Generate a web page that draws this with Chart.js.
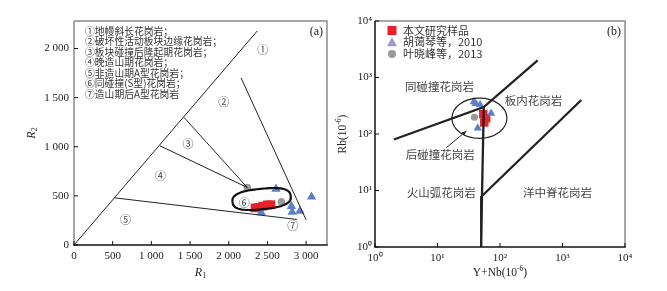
<!DOCTYPE html>
<html>
<head>
<meta charset="utf-8">
<script src="https://cdn.jsdelivr.net/npm/chart.js@4.4.0/dist/chart.umd.min.js"></script>
<style>
html, body { margin: 0; padding: 0; background: #fff; }
#wrap { position: relative; width: 667px; height: 291px; }
canvas { position: absolute; top: 0; }
</style>
</head>
<body>
<div id="wrap">
  <canvas id="chartA" width="334" height="291" style="left:0"></canvas>
  <canvas id="chartB" width="333" height="291" style="left:334px"></canvas>
</div>
<script>
// ---- panel (a): R1-R2 ----
const r1Ticks = [0, 500, 1000, 1500, 2000, 2500, 3000];
const r2Ticks = [0, 500, 1000, 1500, 2000];
const boundA1 = [{x: 0, y: 0}, {x: 2370, y: 2180}];
const boundA2 = [{x: 2160, y: 1700}, {x: 3000, y: 255}];
const boundA3 = [{x: 1420, y: 1300}, {x: 2240, y: 585}];
const boundA4 = [{x: 1110, y: 1010}, {x: 2240, y: 585}];
const boundA5 = [{x: 525, y: 480}, {x: 2880, y: 260}];
const thisStudyA = [{x: 2340, y: 378}, {x: 2390, y: 382}, {x: 2440, y: 396}, {x: 2500, y: 408}, {x: 2545, y: 410}];
const huA = [{x: 2610, y: 570}, {x: 3070, y: 490}, {x: 2810, y: 395}, {x: 2820, y: 335}, {x: 2920, y: 345}, {x: 2420, y: 330}];
const yeA = [{x: 2240, y: 585}, {x: 2680, y: 440}];
const zonesA = [
  {x: 2440, y: 1990, t: '①'}, {x: 1937, y: 1462, t: '②'}, {x: 1474, y: 1032, t: '③'},
  {x: 1117, y: 704, t: '④'}, {x: 667, y: 254, t: '⑤'}, {x: 2200, y: 433, t: '⑥'}, {x: 2826, y: 193, t: '⑦'}
];
const keyA = [
  '①地幔斜长花岗岩；', '②破坏性活动板块边缘花岗岩；', '③板块碰撞后隆起期花岗岩；',
  '④晚造山期花岗岩；', '⑤非造山期A型花岗岩；', '⑥同碰撞(S型)花岗岩；', '⑦造山期后A型花岗岩'
];
const fieldA = {x: 2425, y: 468, rx: 378, ry: 104, tilt: -0.1};

// ---- panel (b): Rb vs Y+Nb ----
const decades = [1, 10, 100, 1000, 10000];
const boundB1 = [{x: 2, y: 80}, {x: 55, y: 300}, {x: 400, y: 2000}];
const boundB2 = [{x: 55, y: 300}, {x: 51.5, y: 8}, {x: 50, y: 1}];
const boundB3 = [{x: 51.5, y: 8}, {x: 2000, y: 400}];
const thisStudyB = [{x: 54, y: 225}, {x: 60, y: 190}, {x: 56, y: 160}];
const huB = [{x: 38, y: 370}, {x: 41, y: 345}, {x: 48, y: 330}, {x: 72, y: 233}, {x: 44, y: 127}];
const yeB = [{x: 39, y: 198}];
const zonesB = [
  {x: 10.8, y: 688, t: '同碰撞花岗岩'}, {x: 345, y: 389, t: '板内花岗岩'},
  {x: 11.1, y: 42.7, t: '后碰撞花岗岩'}, {x: 11.5, y: 9.2, t: '火山弧花岗岩'}, {x: 835, y: 9.2, t: '洋中脊花岗岩'}
];
const fieldB = {xMin: 17, xMax: 129, yMin: 84, yMax: 430};
const arrowB = [{x: 13.8, y: 57}, {x: 29, y: 113}];
const seriesNames = ['本文研究样品', '胡蔼琴等，2010', '叶晓峰等，2013'];

const SERIF = '"Liberation Serif", "Times New Roman", serif';
const CJK = '"Noto Sans CJK SC", sans-serif';
const RED = '#e8212b', BLUE = '#5b80c6', GRAY = '#9a9a9a';

function lineSet(data, width) {
  return {data: data, showLine: true, borderColor: '#222', borderWidth: width, pointRadius: 0, fill: false, tension: 0};
}
function markSet(data, style, color, r) {
  return {data: data, pointStyle: style, backgroundColor: color, borderColor: color, borderWidth: 0, pointRadius: r, pointHoverRadius: r, showLine: false};
}

function drawRich(ctx, parts, x, y, rot) {
  ctx.save();
  ctx.translate(x, y);
  ctx.rotate(rot || 0);
  let w = 0;
  parts.forEach(p => { ctx.font = p.font; p.w = ctx.measureText(p.t).width; w += p.w; });
  let cx = -w / 2;
  ctx.textBaseline = 'middle';
  ctx.textAlign = 'left';
  parts.forEach(p => { ctx.font = p.font; ctx.fillText(p.t, cx, p.dy || 0); cx += p.w; });
  ctx.restore();
}

function drawFrame(chart, leftColor, tickVals) {
  const {ctx, chartArea: a, scales} = chart;
  ctx.save();
  ctx.lineWidth = 1.5;
  ctx.strokeStyle = '#8a8a8a';
  ctx.beginPath();
  ctx.moveTo(a.left, a.top); ctx.lineTo(a.right, a.top); ctx.lineTo(a.right, a.bottom);
  ctx.stroke();
  ctx.strokeStyle = leftColor;
  ctx.beginPath(); ctx.moveTo(a.left, a.top); ctx.lineTo(a.left, a.bottom); ctx.stroke();
  ctx.strokeStyle = '#111';
  ctx.beginPath(); ctx.moveTo(a.left - 0.75, a.bottom); ctx.lineTo(a.right + 0.75, a.bottom); ctx.stroke();
  ctx.lineWidth = 1;
  ctx.strokeStyle = '#111';
  tickVals.x.forEach(v => {
    const p = scales.x.getPixelForValue(v);
    ctx.beginPath(); ctx.moveTo(p, a.bottom); ctx.lineTo(p, a.bottom - 4); ctx.stroke();
  });
  tickVals.y.forEach(v => {
    const p = scales.y.getPixelForValue(v);
    ctx.beginPath(); ctx.moveTo(a.left, p); ctx.lineTo(a.left + 4, p); ctx.stroke();
  });
  ctx.restore();
}

const decorA = {
  id: 'decorA',
  afterDatasetsDraw(chart) {
    const {ctx, scales: {x, y}, chartArea: a} = chart;
    ctx.save();
    // closed field around group 6
    const cx = x.getPixelForValue(fieldA.x), cy = y.getPixelForValue(fieldA.y);
    const rx = Math.abs(x.getPixelForValue(fieldA.x + fieldA.rx) - cx);
    const ry = Math.abs(y.getPixelForValue(fieldA.y + fieldA.ry) - cy);
    ctx.beginPath();
    for (let i = 0; i <= 96; i++) {
      const t = i / 96 * Math.PI * 2;
      const c = Math.cos(t), s = Math.sin(t);
      const ex = rx * Math.sign(c) * Math.pow(Math.abs(c), 0.75);
      const ey = ry * Math.sign(s) * Math.pow(Math.abs(s), 0.75);
      const px = cx + ex * Math.cos(fieldA.tilt) - ey * Math.sin(fieldA.tilt);
      const py = cy + ex * Math.sin(fieldA.tilt) + ey * Math.cos(fieldA.tilt);
      if (i === 0) ctx.moveTo(px, py); else ctx.lineTo(px, py);
    }
    ctx.closePath();
    ctx.lineWidth = 2.2;
    ctx.strokeStyle = '#111';
    ctx.stroke();

    ctx.fillStyle = '#444';
    ctx.font = '11px ' + CJK;
    ctx.textAlign = 'center';
    ctx.textBaseline = 'middle';
    zonesA.forEach(z => ctx.fillText(z.t, x.getPixelForValue(z.x), y.getPixelForValue(z.y)));

    ctx.fillStyle = '#333';
    ctx.font = '9.8px ' + CJK;
    ctx.textAlign = 'left';
    keyA.forEach((t, i) => ctx.fillText(t, a.left + 11, a.top + 10 + i * 10.5));

    ctx.font = '12px ' + SERIF;
    ctx.fillStyle = '#222';
    ctx.textAlign = 'right';
    ctx.fillText('(a)', a.right - 4, a.top + 11);
    ctx.restore();

    ctx.fillStyle = '#222';
    drawRich(ctx, [{t: 'R', font: 'italic 12px ' + SERIF}, {t: '1', font: '8px ' + SERIF, dy: 3}], (a.left + a.right) / 2, 273, 0);
    drawRich(ctx, [{t: 'R', font: 'italic 12px ' + SERIF}, {t: '2', font: '8px ' + SERIF, dy: 3}], 32, (a.top + a.bottom) / 2, -Math.PI / 2);
  },
  afterDraw(chart) { drawFrame(chart, '#8a8a8a', {x: r1Ticks, y: r2Ticks}); }
};

const decorB = {
  id: 'decorB',
  afterDatasetsDraw(chart) {
    const {ctx, scales: {x, y}, chartArea: a} = chart;
    ctx.save();
    const x0 = x.getPixelForValue(fieldB.xMin), x1 = x.getPixelForValue(fieldB.xMax);
    const y0 = y.getPixelForValue(fieldB.yMin), y1 = y.getPixelForValue(fieldB.yMax);
    ctx.beginPath();
    ctx.ellipse((x0 + x1) / 2, (y0 + y1) / 2, Math.abs(x1 - x0) / 2, Math.abs(y1 - y0) / 2, 0, 0, Math.PI * 2);
    ctx.lineWidth = 1.2;
    ctx.strokeStyle = '#222';
    ctx.stroke();

    // arrow
    const ax0 = x.getPixelForValue(arrowB[0].x), ay0 = y.getPixelForValue(arrowB[0].y);
    const ax1 = x.getPixelForValue(arrowB[1].x), ay1 = y.getPixelForValue(arrowB[1].y);
    const ang = Math.atan2(ay1 - ay0, ax1 - ax0);
    ctx.lineWidth = 1;
    ctx.beginPath(); ctx.moveTo(ax0, ay0); ctx.lineTo(ax1, ay1); ctx.stroke();
    ctx.fillStyle = '#222';
    ctx.beginPath();
    ctx.moveTo(ax1, ay1);
    ctx.lineTo(ax1 - 5 * Math.cos(ang - 0.4), ay1 - 5 * Math.sin(ang - 0.4));
    ctx.lineTo(ax1 - 5 * Math.cos(ang + 0.4), ay1 - 5 * Math.sin(ang + 0.4));
    ctx.closePath(); ctx.fill();

    ctx.fillStyle = '#444';
    ctx.font = '11.5px ' + CJK;
    ctx.textAlign = 'center';
    ctx.textBaseline = 'middle';
    zonesB.forEach(z => ctx.fillText(z.t, x.getPixelForValue(z.x), y.getPixelForValue(z.y)));

    // legend
    const lx = a.left + 17, ly = a.top + 9.5;
    ctx.fillStyle = RED;
    ctx.fillRect(lx - 4.5, ly - 4.5, 9, 9);
    ctx.fillStyle = '#9a9ad8';
    ctx.beginPath();
    ctx.moveTo(lx, ly + 11.7 - 5); ctx.lineTo(lx + 5, ly + 11.7 + 4); ctx.lineTo(lx - 5, ly + 11.7 + 4);
    ctx.closePath(); ctx.fill();
    ctx.fillStyle = GRAY;
    ctx.beginPath(); ctx.arc(lx, ly + 23.4, 4, 0, Math.PI * 2); ctx.fill();
    ctx.fillStyle = '#333';
    ctx.font = '11px ' + CJK;
    ctx.textAlign = 'left';
    seriesNames.forEach((t, i) => ctx.fillText(t, lx + 11, ly + i * 11.7));

    ctx.font = '12px ' + SERIF;
    ctx.fillStyle = '#222';
    ctx.textAlign = 'right';
    ctx.fillText('(b)', a.right - 4, a.top + 11);
    ctx.restore();

    ctx.fillStyle = '#222';
    drawRich(ctx, [{t: 'Y+Nb(10', font: '11.5px ' + SERIF}, {t: '-6', font: '7.5px ' + SERIF, dy: -4}, {t: ')', font: '11.5px ' + SERIF}], (a.left + a.right) / 2, 273, 0);
    drawRich(ctx, [{t: 'Rb(10', font: '11.5px ' + SERIF}, {t: '-6', font: '7.5px ' + SERIF, dy: -4}, {t: ')', font: '11.5px ' + SERIF}], 9, (a.top + a.bottom) / 2, -Math.PI / 2);
  },
  afterDraw(chart) { drawFrame(chart, '#111', {x: decades, y: decades}); }
};

const sup = {'0': '⁰', '1': '¹', '2': '²', '3': '³', '4': '⁴'};
function decadeLabel(v) { return '10' + sup[String(Math.round(Math.log10(v)))]; }
function spaced(v) { return String(v).replace(/\B(?=(\d{3})+$)/g, ' '); }

const tickFont = {family: SERIF, size: 11};

new Chart(document.getElementById('chartA'), {
  type: 'scatter',
  data: {
    datasets: [
      lineSet(boundA1, 1), lineSet(boundA2, 1), lineSet(boundA3, 1), lineSet(boundA4, 1), lineSet(boundA5, 1),
      markSet(yeA, 'circle', GRAY, 3.8),
      markSet(huA, 'triangle', BLUE, 5.4),
      markSet(thisStudyA, 'rect', RED, 6.2)
    ]
  },
  options: {
    responsive: false,
    animation: false,
    layout: {padding: {top: 21, right: 7, left: 0, bottom: 0}},
    plugins: {legend: {display: false}, tooltip: {enabled: false}},
    scales: {
      x: {
        type: 'linear', min: 0, max: 3270,
        afterBuildTicks: s => { s.ticks = r1Ticks.map(v => ({value: v})); },
        afterFit: s => { s.height = 46; },
        ticks: {callback: v => spaced(v), font: tickFont, color: '#222', padding: 5, maxRotation: 0, autoSkip: false},
        grid: {display: false, drawTicks: false},
        border: {display: false}
      },
      y: {
        type: 'linear', min: 0, max: 2280,
        afterBuildTicks: s => { s.ticks = r2Ticks.map(v => ({value: v})); },
        afterFit: s => { s.width = 74; },
        ticks: {callback: v => spaced(v), font: tickFont, color: '#222', padding: 5, autoSkip: false},
        grid: {display: false, drawTicks: false},
        border: {display: false}
      }
    }
  },
  plugins: [decorA]
});

new Chart(document.getElementById('chartB'), {
  type: 'scatter',
  data: {
    datasets: [
      lineSet(boundB1, 2.3), lineSet(boundB2, 2.3), lineSet(boundB3, 2.3),
      markSet(yeB, 'circle', GRAY, 3.6),
      markSet(huB, 'triangle', BLUE, 4.8),
      markSet(thisStudyB, 'rect', RED, 6)
    ]
  },
  options: {
    responsive: false,
    animation: false,
    layout: {padding: {top: 21, right: 42, left: 0, bottom: 0}},
    plugins: {legend: {display: false}, tooltip: {enabled: false}},
    scales: {
      x: {
        type: 'logarithmic', min: 1, max: 10000,
        afterBuildTicks: s => { s.ticks = decades.map(v => ({value: v})); },
        afterFit: s => { s.height = 44; },
        ticks: {callback: v => decadeLabel(v), font: tickFont, color: '#222', padding: 5, maxRotation: 0, autoSkip: false},
        grid: {display: false, drawTicks: false},
        border: {display: false}
      },
      y: {
        type: 'logarithmic', min: 1, max: 10000,
        afterBuildTicks: s => { s.ticks = decades.map(v => ({value: v})); },
        afterFit: s => { s.width = 41; },
        ticks: {callback: v => decadeLabel(v), font: tickFont, color: '#222', padding: 3, autoSkip: false},
        grid: {display: false, drawTicks: false},
        border: {display: false}
      }
    }
  },
  plugins: [decorB]
});
</script>
</body>
</html>
